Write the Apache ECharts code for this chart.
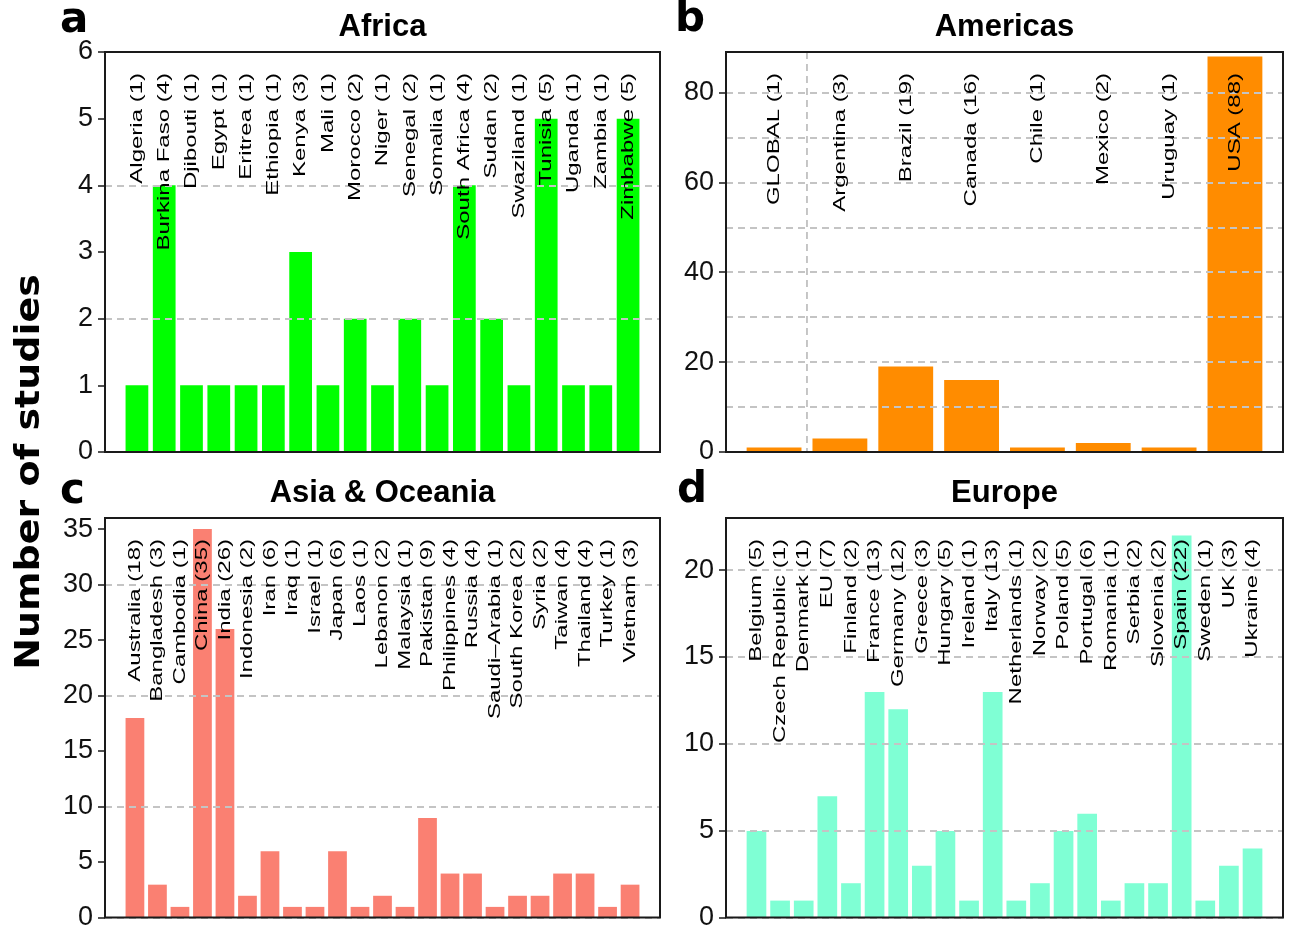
<!DOCTYPE html>
<html>
<head>
<meta charset="utf-8">
<script src="https://cdn.jsdelivr.net/npm/echarts@6/dist/echarts.min.js"></script>
<style>
html,body{margin:0;padding:0;background:#ffffff;}
#chart{width:1290px;height:931px;}
</style>
</head>
<body>
<div id="chart"></div>
<script>
// ---------------- DATA ----------------
const africaCountries = ['Algeria','Burkina Faso','Djibouti','Egypt','Eritrea','Ethiopia','Kenya','Mali','Morocco','Niger','Senegal','Somalia','South Africa','Sudan','Swaziland','Tunisia','Uganda','Zambia','Zimbabwe'];
const africaStudies = [1,4,1,1,1,1,3,1,2,1,2,1,4,2,1,5,1,1,5];
const africaTicks = [0,1,2,3,4,5,6];
const africaYMax = 6;
const africaGridStep = 2;

const americasCountries = ['GLOBAL','Argentina','Brazil','Canada','Chile','Mexico','Uruguay','USA'];
const americasStudies = [1,3,19,16,1,2,1,88];
const americasTicks = [0,20,40,60,80];
const americasYMax = 89;
const americasGridStep = 10;

const asiaCountries = ['Australia','Bangladesh','Cambodia','China','India','Indonesia','Iran','Iraq','Israel','Japan','Laos','Lebanon','Malaysia','Pakistan','Philippines','Russia','Saudi\u2013Arabia','South Korea','Syria','Taiwan','Thailand','Turkey','Vietnam'];
const asiaStudies = [18,3,1,35,26,2,6,1,1,6,1,2,1,9,4,4,1,2,2,4,4,1,3];
const asiaTicks = [0,5,10,15,20,25,30,35];
const asiaYMax = 36;
const asiaGridStep = 10;

const europeCountries = ['Belgium','Czech Republic','Denmark','EU','Finland','France','Germany','Greece','Hungary','Ireland','Italy','Netherlands','Norway','Poland','Portugal','Romania','Serbia','Slovenia','Spain','Sweden','UK','Ukraine'];
const europeStudies = [5,1,1,7,2,13,12,3,5,1,13,1,2,5,6,1,2,2,22,1,3,4];
const europeTicks = [0,5,10,15,20];
const europeYMax = 23;
const europeGridStep = 5;

const panelTitles = ['Africa','Americas','Asia & Oceania','Europe'];
const panelLetters = ['a','b','c','d'];
const yAxisTitle = 'Number of studies';

// ---------------- LAYOUT / STYLE ----------------
const FONT = '"Liberation Sans", Arial, Helvetica, sans-serif';
const panels = [
  {cats: africaCountries, vals: africaStudies, ticks: africaTicks, ymax: africaYMax, step: africaGridStep, color: '#00FF00', frame: {left:105, top:52, width:555, height:400}, sepAfter: null, letterPos:[60,21], titleY:27},
  {cats: americasCountries, vals: americasStudies, ticks: americasTicks, ymax: americasYMax, step: americasGridStep, color: '#FF8C00', frame: {left:726, top:52, width:557, height:400}, sepAfter: 0, letterPos:[675,20], titleY:27},
  {cats: asiaCountries, vals: asiaStudies, ticks: asiaTicks, ymax: asiaYMax, step: asiaGridStep, color: '#FA8072', frame: {left:105, top:518, width:555, height:400}, sepAfter: null, letterPos:[60,492], titleY:493},
  {cats: europeCountries, vals: europeStudies, ticks: europeTicks, ymax: europeYMax, step: europeGridStep, color: '#7FFFD4', frame: {left:726, top:518, width:557, height:400}, sepAfter: null, letterPos:[677,491], titleY:493}
];

const grids = [], xAxes = [], yAxes = [], series = [], graphics = [];

panels.forEach(function (p, k) {
  const n = p.cats.length;
  // barplot-like padding: bars of width 1 with 0.2 gaps, 4% extension of x range
  const span = 1.2 * n - 0.2;
  const pxPerUnit = p.frame.width / (span * 1.08);
  const off = (-0.1 + 0.04 * span) * pxPerUnit;

  const fg = grids.length;
  grids.push({left: p.frame.left, top: p.frame.top, width: p.frame.width, height: p.frame.height,
    show: true, borderColor: '#1a1a1a', borderWidth: 2, backgroundColor: 'transparent', z: 10});
  const dg = grids.length;
  grids.push({left: p.frame.left + off, top: p.frame.top, width: p.frame.width - 2 * off, height: p.frame.height});

  // frame grid axes
  const fx = xAxes.length;
  xAxes.push({type: 'value', gridIndex: fg, min: 0, max: 1, show: false});
  const fyLab = yAxes.length;
  yAxes.push({type: 'value', gridIndex: fg, min: 0, max: p.ymax,
    axisLine: {show: false},
    axisTick: {show: true, length: 7, customValues: p.ticks, lineStyle: {color: '#1a1a1a', width: 1.5}},
    axisLabel: {show: true, customValues: p.ticks, fontSize: 27, fontFamily: FONT, color: '#111', margin: 12},
    splitLine: {show: false}});
  const fyGrid = yAxes.length;
  yAxes.push({type: 'value', gridIndex: fg, min: 0, max: p.ymax, interval: p.step, z: 3,
    axisLine: {show: false}, axisTick: {show: false}, axisLabel: {show: false},
    splitLine: {show: true, lineStyle: {color: '#c4c4c4', width: 2, type: [7, 5]}}});

  // data grid axes
  const dx = xAxes.length;
  xAxes.push({type: 'category', gridIndex: dg, data: p.cats, boundaryGap: true,
    axisLine: {show: false}, axisTick: {show: false}, axisLabel: {show: false}, splitLine: {show: false}});
  const dy = yAxes.length;
  yAxes.push({type: 'value', gridIndex: dg, min: 0, max: p.ymax, show: false, splitLine: {show: false}});

  // a dummy series on frame grid so it is laid out
  series.push({type: 'line', xAxisIndex: fx, yAxisIndex: fyLab, data: [], silent: true});

  series.push({type: 'bar', xAxisIndex: dx, yAxisIndex: dy, data: p.vals, barWidth: '83.3%',
    itemStyle: {color: p.color}, z: 2, silent: true, animation: false});

  const cats = p.cats, vals = p.vals, sepAfter = p.sepAfter;
  series.push({type: 'custom', xAxisIndex: dx, yAxisIndex: dy, z: 4, silent: true, animation: false,
    data: vals.map(function (v, i) { return [i, v]; }),
    encode: {x: 0, y: 1},
    renderItem: function (params, api) {
      const i = api.value(0);
      const pt = api.coord([i, 0]);
      const cs = params.coordSys;
      const children = [{
        type: 'text', x: pt[0], y: cs.y + 21, rotation: Math.PI / 2, scaleX: 1, scaleY: 0.72,
        style: {text: cats[params.dataIndex] + ' (' + vals[params.dataIndex] + ')', fill: '#000',
          fontSize: 24, fontFamily: FONT, align: 'right', verticalAlign: 'middle'}
      }];
      if (sepAfter !== null && params.dataIndex === sepAfter) {
        const bw = api.size([1, 0])[0];
        const xs = pt[0] + bw / 2;
        children.push({type: 'line', shape: {x1: xs, y1: cs.y, x2: xs, y2: cs.y + cs.height},
          style: {stroke: '#a8a8a8', lineWidth: 1.3, lineDash: [7, 5]}});
      }
      return {type: 'group', children: children};
    }
  });

  // titles and panel letters
  graphics.push({type: 'text', x: p.frame.left + p.frame.width / 2, y: p.titleY, z: 20,
    style: {text: panelTitles[k], fontSize: 31, fontWeight: 'bold', fontFamily: FONT, fill: '#000', align: 'center', verticalAlign: 'middle'}});
  graphics.push({type: 'text', x: p.letterPos[0], y: p.letterPos[1], z: 20,
    style: {text: panelLetters[k], fontSize: 42, fontWeight: 'bold', fontFamily: '"DejaVu Sans", ' + FONT, fill: '#000', align: 'left', verticalAlign: 'middle'}});
});

graphics.push({type: 'text', x: 30, y: 472, rotation: Math.PI / 2, scaleX: 1, scaleY: 0.866, z: 20,
  style: {text: yAxisTitle, fontSize: 38, fontWeight: 'bold', fontFamily: '"DejaVu Sans", ' + FONT, fill: '#000', align: 'center', verticalAlign: 'middle'}});

const chart = echarts.init(document.getElementById('chart'), null, {renderer: 'canvas'});
chart.setOption({
  animation: false,
  backgroundColor: '#ffffff',
  grid: grids,
  xAxis: xAxes,
  yAxis: yAxes,
  series: series,
  graphic: graphics
});
</script>
</body>
</html>
